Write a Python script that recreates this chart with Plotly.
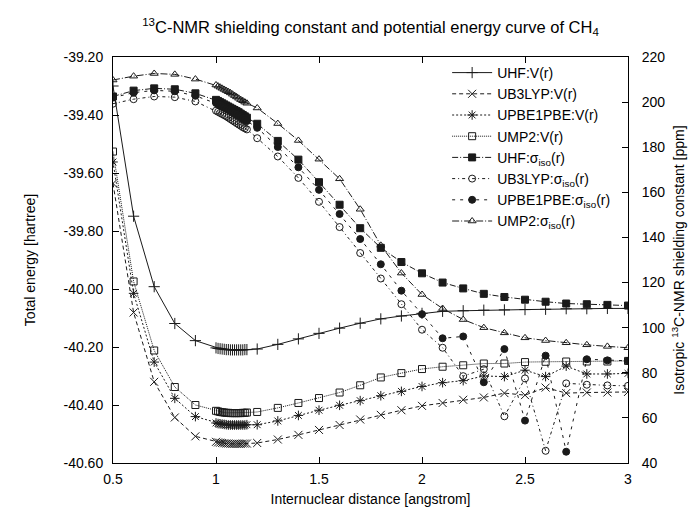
import plotly.graph_objects as go

# Internuclear distance [angstrom]
r = [0.5, 0.6, 0.7, 0.8, 0.9,
     1.00, 1.01, 1.02, 1.03, 1.04, 1.05, 1.06, 1.07, 1.08, 1.09, 1.10, 1.11, 1.12, 1.13, 1.14, 1.15,
     1.2, 1.3, 1.4, 1.5, 1.6, 1.7, 1.8, 1.9, 2.0, 2.1, 2.2, 2.3, 2.4, 2.5, 2.6, 2.7, 2.8, 2.9, 3.0]

# Total energies [hartree]
uhf_v = [-39.300, -39.749, -39.992, -40.119, -40.178,
         -40.203, -40.205, -40.206, -40.207, -40.208, -40.209, -40.209, -40.210, -40.210, -40.210,
         -40.210, -40.210, -40.210, -40.210, -40.209, -40.209,
         -40.207, -40.191, -40.172, -40.153, -40.135, -40.118, -40.103, -40.093, -40.084, -40.077,
         -40.075, -40.073, -40.072, -40.071, -40.070, -40.068, -40.068, -40.067, -40.067]
ub3lyp_v = [-39.636, -40.081, -40.320, -40.443, -40.508,
            -40.527, -40.529, -40.530, -40.531, -40.532, -40.533, -40.533, -40.534, -40.534, -40.534,
            -40.534, -40.534, -40.534, -40.533, -40.533, -40.533,
            -40.531, -40.519, -40.503, -40.486, -40.469, -40.450, -40.434, -40.418, -40.403, -40.393,
            -40.382, -40.374, -40.359, -40.366, -40.340, -40.359, -40.357, -40.357, -40.355]
upbe1pbe_v = [-39.562, -40.015, -40.252, -40.377, -40.440,
              -40.462, -40.464, -40.465, -40.466, -40.467, -40.468, -40.469, -40.469, -40.469, -40.469,
              -40.469, -40.469, -40.469, -40.469, -40.469, -40.468,
              -40.468, -40.455, -40.436, -40.418, -40.401, -40.385, -40.368, -40.353, -40.336, -40.323,
              -40.316, -40.300, -40.302, -40.280, -40.302, -40.266, -40.293, -40.293, -40.291]
ump2_v = [-39.526, -39.974, -40.212, -40.338, -40.400,
          -40.420, -40.422, -40.424, -40.425, -40.426, -40.427, -40.427, -40.428, -40.428, -40.428,
          -40.428, -40.428, -40.428, -40.427, -40.427, -40.426,
          -40.424, -40.410, -40.393, -40.376, -40.357, -40.332, -40.305, -40.290, -40.276, -40.268,
          -40.263, -40.257, -40.257, -40.252, -40.251, -40.250, -40.250, -40.250, -40.248]

# Isotropic 13C shielding constants [ppm]
uhf_s = [202.5, 205.1, 206.1, 205.7, 203.9,
         201.0, 200.5, 200.0, 199.5, 199.0, 198.5, 198.0, 197.5, 197.0, 196.5, 196.0, 195.5, 194.9,
         194.3, 193.7, 193.1,
         190.4, 182.8, 174.5, 164.5, 154.5, 144.1, 135.4, 129.1, 124.1, 120.0, 117.4, 115.0, 113.6,
         112.4, 111.5, 110.7, 110.4, 110.1, 109.8]
ub3lyp_s = [199.3, 201.3, 202.5, 202.2, 200.3,
            196.2, 195.7, 195.2, 194.7, 194.2, 193.7, 193.1, 192.5, 191.9, 191.3, 190.7, 190.1, 189.5,
            188.9, 188.4, 187.9,
            184.0, 175.9, 166.4, 155.8, 144.6, 133.1, 121.8, 110.4, 99.1, 91.1, 78.5, 81.6, 60.7,
            77.5, 45.4, 75.3, 74.7, 74.4, 74.2]
upbe1pbe_s = [202.0, 204.2, 205.2, 204.8, 202.8,
              199.6, 199.1, 198.6, 198.1, 197.6, 197.1, 196.6, 196.1, 195.6, 195.1, 194.6, 194.0, 193.4,
              192.8, 192.2, 191.6,
              188.6, 180.1, 171.1, 161.1, 150.4, 139.3, 128.1, 116.4, 106.0, 95.3, 96.1, 75.8, 90.5,
              58.8, 87.6, 45.0, 86.0, 85.5, 85.3]
ump2_s = [209.8, 211.5, 212.7, 212.3, 210.2,
          207.6, 207.1, 206.6, 206.1, 205.6, 205.1, 204.6, 204.1, 203.5, 202.9, 202.3, 201.7, 201.1,
          200.6, 200.0, 199.5,
          197.4, 190.5, 183.0, 174.7, 166.0, 152.5, 136.5, 124.2, 114.7, 108.5, 103.6, 100.0, 97.7,
          95.5, 94.3, 93.3, 92.4, 91.7, 91.1]

x_ticks = [0.5, 1, 1.5, 2, 2.5, 3]
x_labels = ['0.5', '1', '1.5', '2', '2.5', '3']
y_ticks = [-39.2, -39.4, -39.6, -39.8, -40.0, -40.2, -40.4, -40.6]
y_labels = ['-39.20', '-39.40', '-39.60', '-39.80', '-40.00', '-40.20', '-40.40', '-40.60']
y2_ticks = [40, 60, 80, 100, 120, 140, 160, 180, 200, 220]
y2_labels = ['40', '60', '80', '100', '120', '140', '160', '180', '200', '220']

FONT = 'Liberation Sans'
INK = '#1a1a1a'

fig = go.Figure()


def add(name, y, axis, symbol, dash, size=7):
    fig.add_trace(go.Scatter(
        x=r, y=y, name=name, yaxis=axis, mode='lines+markers',
        line=dict(color=INK, width=1, dash=dash),
        marker=dict(symbol=symbol, size=size, color=INK, line=dict(color=INK, width=1)),
    ))


add('UHF:V(r)', uhf_v, 'y', 'cross-thin', 'solid', 8)
add('UB3LYP:V(r)', ub3lyp_v, 'y', 'x-thin', '4px,3px', 8)
add('UPBE1PBE:V(r)', upbe1pbe_v, 'y', 'asterisk', '2px,2px', 8)
add('UMP2:V(r)', ump2_v, 'y', 'square-open', '1px,1px', 7)
add('UHF:σ<sub>iso</sub>(r)', uhf_s, 'y2', 'square', '6px,2px,1px,2px', 7)
add('UB3LYP:σ<sub>iso</sub>(r)', ub3lyp_s, 'y2', 'circle-open', '3px,3px,1px,3px', 7)
add('UPBE1PBE:σ<sub>iso</sub>(r)', upbe1pbe_s, 'y2', 'circle', '3px,5px', 7)
add('UMP2:σ<sub>iso</sub>(r)', ump2_s, 'y2', 'triangle-up-open', '7px,2px,1px,2px', 7)

axis_common = dict(
    showgrid=False, zeroline=False, showline=True, linecolor='black', linewidth=1,
    ticks='inside', ticklen=6, tickcolor='black', tickwidth=1,
    tickfont=dict(family=FONT, size=14, color='black'),
)

fig.update_layout(
    width=696, height=509,
    margin=dict(l=105, r=76, t=49, b=48),
    paper_bgcolor='white', plot_bgcolor='white',
    font=dict(family=FONT, size=14, color='black'),
    title=dict(
        text='<sup>13</sup>C-NMR shielding constant and potential energy curve of CH<sub>4</sub>',
        x=0.5, xref='paper', xanchor='center', y=1 - 19 / 509, yref='container', yanchor='middle',
        font=dict(family=FONT, size=16.5, color='black'),
    ),
    xaxis=dict(
        range=[0.5, 3], tickvals=x_ticks, ticktext=x_labels, mirror='ticks',
        ticklabelstandoff=3,
        title=dict(text='Internuclear distance [angstrom]', standoff=8,
                   font=dict(family=FONT, size=14)),
        **axis_common,
    ),
    yaxis=dict(
        range=[-40.6, -39.2], tickvals=y_ticks, ticktext=y_labels,
        ticklabelstandoff=6,
        title=dict(text='Total energy [hartree]', standoff=24, font=dict(family=FONT, size=14)),
        **axis_common,
    ),
    yaxis2=dict(
        range=[40, 220], tickvals=y2_ticks, ticktext=y2_labels, overlaying='y', side='right',
        ticklabelstandoff=10,
        title=dict(text='Isotropic <sup>13</sup>C-NMR shielding constant [ppm]', standoff=9,
                   font=dict(family=FONT, size=14)),
        **axis_common,
    ),
    legend=dict(
        x=0.975, xanchor='right', y=1.0, yanchor='top',
        bgcolor='rgba(0,0,0,0)', borderwidth=0,
        font=dict(family=FONT, size=14, color='black'),
        tracegroupgap=0, itemwidth=40,
    ),
)

fig.write_html('out.html')
